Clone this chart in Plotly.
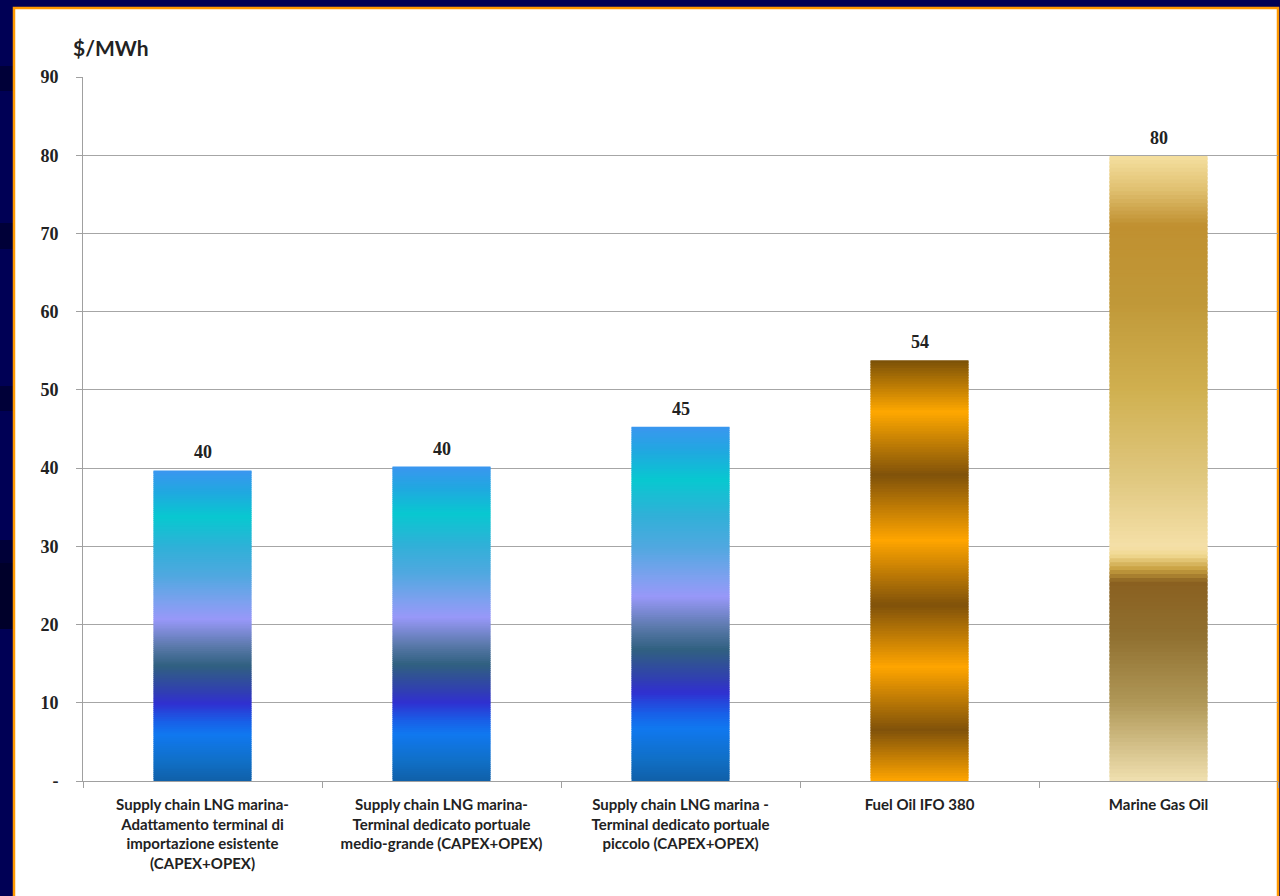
import plotly.graph_objects as go

# ---------------- data ----------------
categories = [
    "Supply chain LNG marina-<br>Adattamento terminal di<br>importazione esistente<br>(CAPEX+OPEX)",
    "Supply chain LNG marina-<br>Terminal dedicato portuale<br>medio-grande (CAPEX+OPEX)",
    "Supply chain LNG marina -<br>Terminal dedicato portuale<br>piccolo (CAPEX+OPEX)",
    "Fuel Oil IFO 380",
    "Marine Gas Oil",
]
values = [39.7, 40.2, 45.3, 53.8, 79.9]
value_labels = ["40", "40", "45", "54", "80"]
y_tickvals = [0, 10, 20, 30, 40, 50, 60, 70, 80, 90]
y_ticktext = ["-", "10", "20", "30", "40", "50", "60", "70", "80", "90"]
y_title = "$/MWh"

# ---------------- styles (gradient stops: fraction of bar height, colour) ----------------
lng_stops = [
    (0.00, "#1060a8"), (0.065, "#1070c8"), (0.15, "#1078f0"), (0.19, "#1860e8"),
    (0.25, "#3030d0"), (0.29, "#3040b0"), (0.37, "#306080"), (0.43, "#5878a8"),
    (0.52, "#9898f8"), (0.57, "#80a0f0"), (0.66, "#50a8e0"), (0.75, "#30b0d8"),
    (0.85, "#08c8d0"), (0.93, "#20a8e0"), (1.00, "#3a96f0"),
]
ifo_stops = [
    (0.000, "#ffa500"), (0.121, "#80520a"), (0.271, "#ffa500"), (0.418, "#80520a"),
    (0.572, "#ffa500"), (0.727, "#80520a"), (0.877, "#ffa800"), (1.000, "#7a5008"),
]
mgo_stops = [
    (0.000, "#f0e0b0"), (0.125, "#b09858"), (0.232, "#907030"), (0.318, "#8a6020"),
    (0.339, "#c8a040"), (0.361, "#f0d890"), (0.375, "#f5e0a8"), (0.482, "#e0c880"),
    (0.625, "#d0b050"), (0.768, "#c09838"), (0.889, "#c09030"), (0.946, "#e0c070"),
    (1.000, "#f5e0a0"),
]
bar_stops = [lng_stops, lng_stops, lng_stops, ifo_stops, mgo_stops]


def hex2rgb(h):
    h = h.lstrip("#")
    return tuple(int(h[i:i + 2], 16) for i in (0, 2, 4))


def color_at(stops, f):
    for (f0, c0), (f1, c1) in zip(stops[:-1], stops[1:]):
        if f0 <= f <= f1:
            t = 0 if f1 == f0 else (f - f0) / (f1 - f0)
            a, b = hex2rgb(c0), hex2rgb(c1)
            r = [round(a[k] + (b[k] - a[k]) * t) for k in range(3)]
            return "rgb(%d,%d,%d)" % tuple(r)
    return stops[-1][1]


N = 160
fig = go.Figure()
for cat, v, stops in zip(categories, values, bar_stops):
    step = v / N
    bases = [i * step for i in range(N)]
    heights = [step * 1.6 if i < N - 1 else step for i in range(N)]
    cols = [color_at(stops, (i + 0.5) / N) for i in range(N)]
    fig.add_trace(go.Bar(
        x=[cat] * N, y=heights, base=bases, width=0.41,
        marker=dict(color=cols, line=dict(width=0)),
        hoverinfo="skip", showlegend=False,
    ))

for cat, v, lab in zip(categories, values, value_labels):
    fig.add_annotation(x=cat, y=v, text=lab, showarrow=False, yanchor="bottom", yshift=6,
                       font=dict(family="Liberation Serif", size=18, color="#222222", weight="bold"))

fig.add_annotation(xref="paper", yref="paper", x=-0.010, y=1.0426, xanchor="left", yanchor="middle",
                   text="<b>" + y_title + "</b>", showarrow=False,
                   font=dict(family="Lato", size=21, color="#222222"))

# background panel / slide decoration
L, R, T, B = 83, 2, 77, 115
W, H = 1280, 896
pw, ph = W - L - R, H - T - B


def px(x):
    return (x - L) / pw


def py(y):
    return (H - B - y) / ph


shapes = [
    dict(type="rect", xref="paper", yref="paper", x0=px(-5), x1=px(13), y0=py(y0), y1=py(y1),
         fillcolor=c, line=dict(width=0), layer="below")
    for (y0, y1, c) in [(66, 91, "#000038"), (223, 249, "#000038"), (386, 411, "#000038"),
                        (540, 563, "#000038"), (563, 629, "#00002a")]
]
shapes.append(dict(type="rect", xref="paper", yref="paper", x0=px(14), x1=px(1278),
                   y0=py(905), y1=py(8), fillcolor="white",
                   line=dict(color="#ff9900", width=2.5), layer="below"))

fig.update_layout(
    width=W, height=H,
    margin=dict(l=L, r=R, t=T, b=B),
    paper_bgcolor="#000055", plot_bgcolor="rgba(0,0,0,0)",
    barmode="overlay", bargap=0.59,
    shapes=shapes,
    xaxis=dict(type="category", categoryorder="array", categoryarray=categories,
               tickson="boundaries", ticks="outside", ticklen=6, tickcolor="#a0a0a0",
               showline=True, linecolor="#a0a0a0", linewidth=1, showgrid=False,
               tickfont=dict(family="Lato", size=15, color="#222222", weight="bold"),
               ticklabelstandoff=10, fixedrange=True),
    yaxis=dict(range=[0, 90], tickvals=y_tickvals, ticktext=y_ticktext,
               showgrid=True, gridcolor="#a6a6a6", gridwidth=1, zeroline=False,
               ticks="outside", ticklen=6, tickcolor="#a0a0a0",
               showline=True, linecolor="#a0a0a0", linewidth=1,
               tickfont=dict(family="Liberation Serif", size=18, color="#222222", weight="bold"),
               ticklabelstandoff=14, fixedrange=True),
)

fig.write_html("out.html")
